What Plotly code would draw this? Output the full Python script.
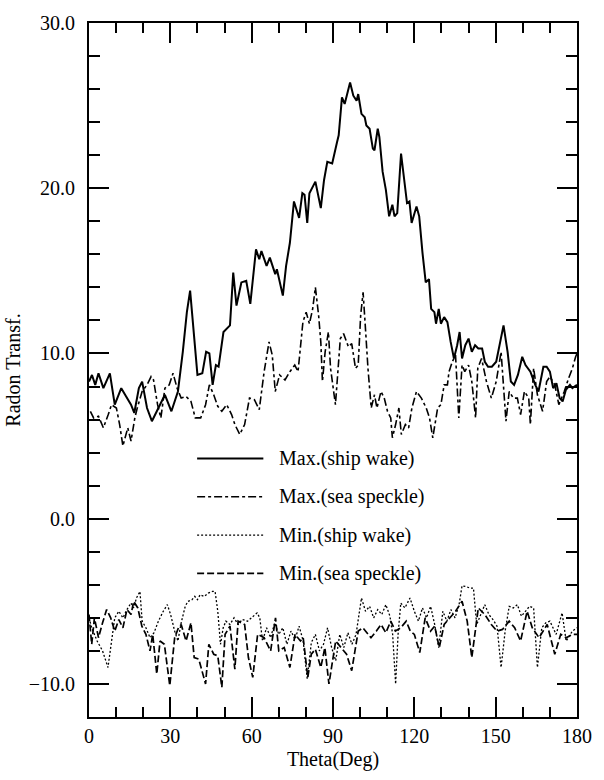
import plotly.graph_objects as go

# ---------------- data ----------------
ship_max_theta = [0, 1.1, 2.3, 3.5, 5.3, 6.5, 7.7, 9.5, 11.9, 13.7,
                  15.5, 16.7, 18.4, 19.6, 21.4, 23.2, 26.2, 28, 30.4, 32.8,
                  34.6, 36.1, 37.3, 38.8, 40, 41.8, 43.2, 44.4, 45.6, 46.8,
                  47.8, 49.6, 52, 53.2, 54.4, 56.2, 58, 59.5, 61.6, 62.8,
                  63.6, 65.5, 66.7, 68.7, 69.3, 71.5, 72.7, 74.1, 75.6, 77.5,
                  78.7, 79.5, 80.5, 81.3, 83.5, 85.5, 86.7, 87.9, 89.7, 91.5,
                  92.1, 93.3, 94.3, 96.3, 97.5, 98.7, 99.3, 100.5, 101.7, 102.3,
                  103.5, 104.7, 105.3, 106.5, 107.1, 108.3, 109.5, 110.7, 111.9, 112.7,
                  113.7, 115.1, 116.3, 117.3, 118.2, 119, 120.8, 121.8, 123, 124.2,
                  125.4, 126.2, 127.4, 128, 129, 129.8, 131, 132.2, 133.4, 134.6,
                  135.8, 136.7, 137.6, 138.8, 140, 141.2, 142.4, 143.6, 145, 146,
                  147.2, 148.6, 150.2, 152.9, 154.4, 155.6, 156.8, 158.2, 159.8, 161,
                  162.8, 164.6, 165.8, 167.6, 168.8, 170, 171.2, 172.4, 173.6, 174.7,
                  175.9, 177.4, 178.3, 180]
ship_max_val = [8.3, 8.7, 8.1, 8.8, 7.9, 8.3, 8.8, 6.9, 7.9, 7.4,
                6.9, 6.4, 7.9, 8.3, 6.7, 5.9, 6.9, 7.5, 6.5, 7.7,
                10.1, 12.5, 13.8, 10.7, 8.7, 8.8, 10.1, 10.0, 8.1, 9.3,
                9.2, 11.3, 11.7, 14.9, 12.9, 14.3, 14.4, 13.0, 16.3, 15.7,
                16.2, 15.3, 15.8, 14.8, 15.1, 13.5, 15.3, 16.7, 19.2, 18.2,
                19.7, 19.6, 17.9, 19.7, 20.4, 18.8, 20.5, 21.6, 21.5, 22.8,
                23.2, 25.5, 25.1, 26.4, 25.6, 25.3, 25.7, 24.5, 24.3, 23.8,
                23.6, 22.4, 22.3, 23.6, 23.1, 21.0, 19.9, 18.3, 19.0, 18.3,
                18.5, 22.1, 20.5, 19.1, 19.2, 17.9, 18.9, 18.3, 16.1, 14.3,
                14.5, 12.7, 12.5, 11.8, 12.7, 11.8, 12.2, 11.9, 10.7, 9.7,
                10.5, 11.3, 9.7, 10.5, 10.9, 10.1, 10.5, 10.3, 10.3, 9.5,
                9.2, 9.2, 9.5, 11.7, 10.1, 8.3, 8.1, 8.7, 9.8, 9.3,
                8.9, 8.1, 7.7, 9.2, 9.2, 8.9, 7.9, 8.2, 7.3, 7.1,
                7.8, 8.1, 7.9, 8.1]

sea_max_theta = [0.5, 1.7, 3.5, 5.3, 7.1, 8.3, 10.1, 11.3, 12.5, 14.3,
                 15.5, 16.9, 17.8, 19.6, 21.4, 22.9, 23.8, 25.3, 26.5, 28,
                 29.6, 31, 32.5, 34, 35.8, 37.6, 39.2, 41.2, 43, 44.4,
                 46, 47.5, 49, 50.8, 52.6, 53.8, 55.6, 57.4, 59.2, 61,
                 62.8, 64.6, 66.4, 67.6, 68.7, 70.3, 72.3, 74.1, 75.9, 77.1,
                 78.9, 80.1, 81.3, 82.5, 83.5, 84.7, 85.5, 86.1, 87.1, 88.3,
                 89.1, 90.9, 92.7, 93.9, 95.7, 96.9, 98.3, 99.3, 100.2, 101.1,
                 101.9, 102.9, 104.1, 105.3, 106.2, 107.7, 108.9, 110.1, 111.3, 111.9,
                 113.1, 114.3, 115.2, 116.7, 117.9, 119.1, 120.8, 122.6, 124.4, 125.6,
                 126.8, 128.6, 129.8, 131, 132.2, 132.8, 134, 135.2, 136.4, 137.6,
                 138.6, 140, 141.2, 142.6, 143.4, 144.8, 146.6, 148.4, 150.2, 152,
                 153.8, 155, 156.5, 158, 159.2, 160.6, 162.2, 162.8, 164, 165.4,
                 167.3, 168.8, 170, 171.8, 173.3, 175.3, 176.9, 178.3, 179.5, 180]
sea_max_val = [6.5, 6.1, 6.2, 5.5, 6.3, 6.9, 6.7, 5.7, 4.4, 5.5,
               4.7, 6.1, 6.7, 7.7, 8.1, 8.6, 8.4, 6.9, 6.1, 7.9,
               8.1, 8.8, 7.9, 7.3, 7.4, 7.1, 6.1, 6.1, 6.9, 8.1,
               7.5, 6.8, 6.5, 6.9, 6.3, 5.7, 5.1, 5.7, 7.3, 7.2,
               6.6, 8.9, 10.7, 9.9, 7.7, 8.7, 8.4, 8.9, 9.3, 8.9,
               11.9, 12.5, 11.8, 12.7, 14.0, 12.3, 10.7, 8.3, 10.1, 11.3,
               9.1, 6.9, 10.9, 11.2, 10.4, 10.6, 9.1, 9.3, 12.3, 13.7,
               11.7, 9.1, 6.7, 7.5, 6.7, 7.7, 7.3, 6.5, 6.1, 4.9,
               5.7, 6.7, 5.1, 5.7, 5.5, 6.7, 7.7, 7.3, 6.7, 6.1,
               4.9, 6.7, 6.9, 8.1, 8.1, 8.9, 9.5, 9.9, 6.1, 9.3,
               8.9, 9.3, 8.3, 6.1, 9.1, 9.7, 8.3, 7.3, 8.3, 10.1,
               5.9, 7.7, 7.3, 7.3, 6.3, 7.7, 7.3, 5.7, 9.1, 7.5,
               6.5, 8.3, 8.6, 8.1, 6.9, 7.7, 8.5, 9.1, 9.8, 10.0]

ship_min_theta = [0, 1, 3, 5, 7, 8.5, 9.5, 11, 12.5, 14,
                  15.5, 16.5, 17.5, 18.8, 19.6, 21, 22.5, 24, 25.6, 27.4,
                  28.9, 30.1, 31.6, 32.8, 34, 35.5, 36.5, 38, 39, 40,
                  41, 42.5, 44, 45.5, 46.5, 47.5, 48.5, 49.5, 50.5, 52,
                  53.5, 55, 56.5, 58.5, 60, 62, 63, 64, 65.5, 67,
                  68.5, 70, 71.5, 73, 74.5, 76, 77.5, 79, 80.5, 82,
                  83.5, 85, 86.5, 88, 89.5, 91, 92.5, 94, 95.5, 97,
                  98.5, 100.5, 102, 103.5, 105, 106.5, 108, 109.5, 111, 112,
                  113.1, 114, 115, 116.5, 118.4, 120, 121.5, 123, 124.5, 126,
                  127.5, 129, 130.5, 132, 133.5, 135, 136.5, 137.6, 139, 140.5,
                  141.8, 143, 144.5, 146, 147.5, 149, 150.5, 152, 153.5, 155,
                  156.5, 158, 159.5, 161, 162.5, 164, 165.4, 167, 168.5, 170,
                  172.3, 174.5, 176, 178.3, 180]
ship_min_val = [-6.0, -6.6, -7.4, -8.0, -9.0, -7.0, -6.0, -5.6, -6.0, -5.5,
                -5.1, -5.4, -4.8, -4.4, -6.2, -6.6, -7.2, -6.9, -6.2, -5.6,
                -5.2, -5.8, -6.8, -7.4, -6.3, -5.3, -5.0, -4.9, -4.7, -4.9,
                -4.6, -4.7, -4.5, -4.4, -4.4, -5.6, -7.6, -6.6, -6.2, -6.4,
                -6.0, -6.4, -6.1, -6.2, -6.0, -5.7, -6.0, -7.4, -6.6, -7.2,
                -6.3, -7.0, -6.6, -7.6, -6.8, -7.3, -6.5, -7.4, -9.7, -7.5,
                -7.0, -8.0, -7.6, -6.6, -7.8, -8.6, -7.0, -7.8, -6.9, -7.6,
                -7.0, -4.8, -5.6, -5.3, -6.0, -5.5, -5.8, -5.2, -5.9, -7.0,
                -10.0, -7.0, -5.1, -5.4, -4.8, -5.6, -6.2, -5.4, -6.0, -5.3,
                -6.4, -7.8, -5.6, -6.2, -5.5, -6.0, -5.2, -4.06, -4.1, -4.2,
                -4.2, -6.4, -5.8, -5.2, -5.8, -6.1, -6.5, -9.0, -6.8, -5.3,
                -5.4, -5.2, -5.9, -5.6, -5.3, -5.4, -9.0, -6.6, -6.3, -6.2,
                -7.0, -5.7, -7.4, -6.8, -6.6]

sea_min_theta = [0, 1, 2, 3.5, 5, 6.5, 8, 9.5, 11, 12.5,
                 14, 15.5, 16.5, 18, 19.5, 21, 22.5, 23.5, 25, 26.2,
                 27.8, 29.8, 31.6, 33, 34, 35.8, 37.6, 38.8, 40.5, 43,
                 44.2, 46, 47.5, 49, 50.2, 52, 53.8, 55, 57.4, 58.8,
                 60.4, 62.2, 64.6, 67, 68.8, 70, 72, 74.1, 76, 78,
                 79, 80.7, 82, 83.5, 85.5, 87, 88.5, 91, 93, 95,
                 96.9, 99.3, 101, 103, 104, 106, 107.7, 109.5, 111.3, 113,
                 115, 117, 118.5, 120, 122, 124, 126, 127.5, 129.2, 131,
                 133, 135.2, 137.6, 139.5, 141.2, 143.6, 146, 148.4, 150.5, 152.5,
                 155, 157, 159.2, 161.6, 163.5, 166, 169, 171.8, 174, 176,
                 178.3, 180]
sea_min_val = [-5.8, -7.6, -6.0, -7.2, -6.3, -5.5, -6.0, -6.8, -6.1, -6.6,
               -5.5, -5.8, -5.0, -5.4, -6.5, -7.0, -8.0, -7.0, -9.4, -7.4,
               -7.6, -10.1, -7.2, -6.6, -6.4, -7.4, -6.3, -8.4, -8.5, -10.0,
               -7.6, -8.2, -8.3, -10.2, -7.0, -6.5, -9.1, -6.2, -6.4, -8.4,
               -9.6, -7.0, -7.2, -8.0, -6.0, -8.0, -7.8, -9.0, -7.0, -7.4,
               -7.2, -9.6, -8.2, -7.9, -9.0, -7.8, -10.0, -7.4, -7.8, -8.2,
               -9.2, -6.8, -6.6, -7.0, -7.2, -6.8, -6.4, -6.9, -6.2, -6.8,
               -6.6, -6.2, -6.8, -7.0, -8.1, -6.0, -6.8, -6.5, -7.8, -6.4,
               -6.0, -5.6, -5.0, -6.2, -8.4, -5.4, -5.8, -6.4, -6.8, -6.7,
               -6.2, -6.6, -7.4, -5.6, -6.6, -7.2, -6.4, -8.2, -7.0, -7.2,
               -7.0, -7.0]

series_names = ["Max.(ship wake)", "Max.(sea speckle)", "Min.(ship wake)", "Min.(sea speckle)"]
x_tick_vals = [0, 30, 60, 90, 120, 150, 180]
y_tick_vals = [-10, 0, 10, 20, 30]

assert len(ship_max_theta) == len(ship_max_val)
assert len(sea_max_theta) == len(sea_max_val)
assert len(ship_min_theta) == len(ship_min_val)
assert len(sea_min_theta) == len(sea_min_val)

FONT = "Liberation Serif, Times New Roman, serif"
FS = 20

W, H = 604, 780
ML, MR, MT, MB = 87, 16, 19, 63
PW, PH = W - ML - MR, H - MT - MB

styles = [
    dict(width=2.0, dash="solid"),
    dict(width=1.6, dash="8px,3px,3px,3px"),
    dict(width=1.3, dash="2px,2px"),
    dict(width=1.7, dash="7px,3px"),
]
data = [(ship_max_theta, ship_max_val), (sea_max_theta, sea_max_val),
        (ship_min_theta, ship_min_val), (sea_min_theta, sea_min_val)]

fig = go.Figure()
for (xs, ys), name, st in zip(data, series_names, styles):
    fig.add_trace(go.Scatter(x=xs, y=ys, mode="lines", name=name,
                             showlegend=False,
                             line=dict(color="black", **st)))

# ---- legend drawn as layout decoration (pixel placement -> paper coords) ----
leg_line_x0, leg_line_x1, leg_text_x = 198, 266, 280
leg_rows_y = [457, 495.5, 534, 572.5]
def px2paper_x(px):
    return (px - ML) / PW
def px2paper_y(py):
    return (H - MB - py) / PH
shapes, annotations = [], []
for name, st, py in zip(series_names, styles, leg_rows_y):
    yy = px2paper_y(py)
    shapes.append(dict(type="line", xref="paper", yref="paper",
                       x0=px2paper_x(leg_line_x0), x1=px2paper_x(leg_line_x1),
                       y0=yy, y1=yy, line=dict(color="black", **st)))
    annotations.append(dict(xref="paper", yref="paper", x=px2paper_x(leg_text_x), y=yy,
                            text=name, showarrow=False, xanchor="left", yanchor="middle",
                            font=dict(family=FONT, size=FS, color="black")))

axis_common = dict(
    showline=True, linecolor="black", linewidth=2, mirror="allticks",
    ticks="inside", tickcolor="black", tickwidth=1.5, ticklen=20,
    showgrid=False, zeroline=False,
    tickfont=dict(family=FONT, size=FS, color="black"),
)

fig.update_layout(
    width=W, height=H,
    margin=dict(l=ML, r=MR, t=MT, b=MB),
    paper_bgcolor="white", plot_bgcolor="white",
    font=dict(family=FONT, size=FS, color="black"),
    xaxis=dict(range=[0, 180], tickvals=x_tick_vals,
               minor=dict(dtick=10, tick0=0, ticks="inside", ticklen=10, tickcolor="black", tickwidth=1.5),
               ticklabelstandoff=0,
               title=dict(text="Theta(Deg)", font=dict(family=FONT, size=FS), standoff=6),
               **axis_common),
    yaxis=dict(range=[-12, 30], tickvals=y_tick_vals, tickformat=".1f",
               minor=dict(dtick=2, tick0=0, ticks="inside", ticklen=11, tickcolor="black", tickwidth=1.5),
               ticklabelstandoff=8,
               title=dict(text="Radon Transf.", font=dict(family=FONT, size=FS), standoff=3),
               **axis_common),
    showlegend=False,
    shapes=shapes,
    annotations=annotations,
)

fig.write_html("out.html")
